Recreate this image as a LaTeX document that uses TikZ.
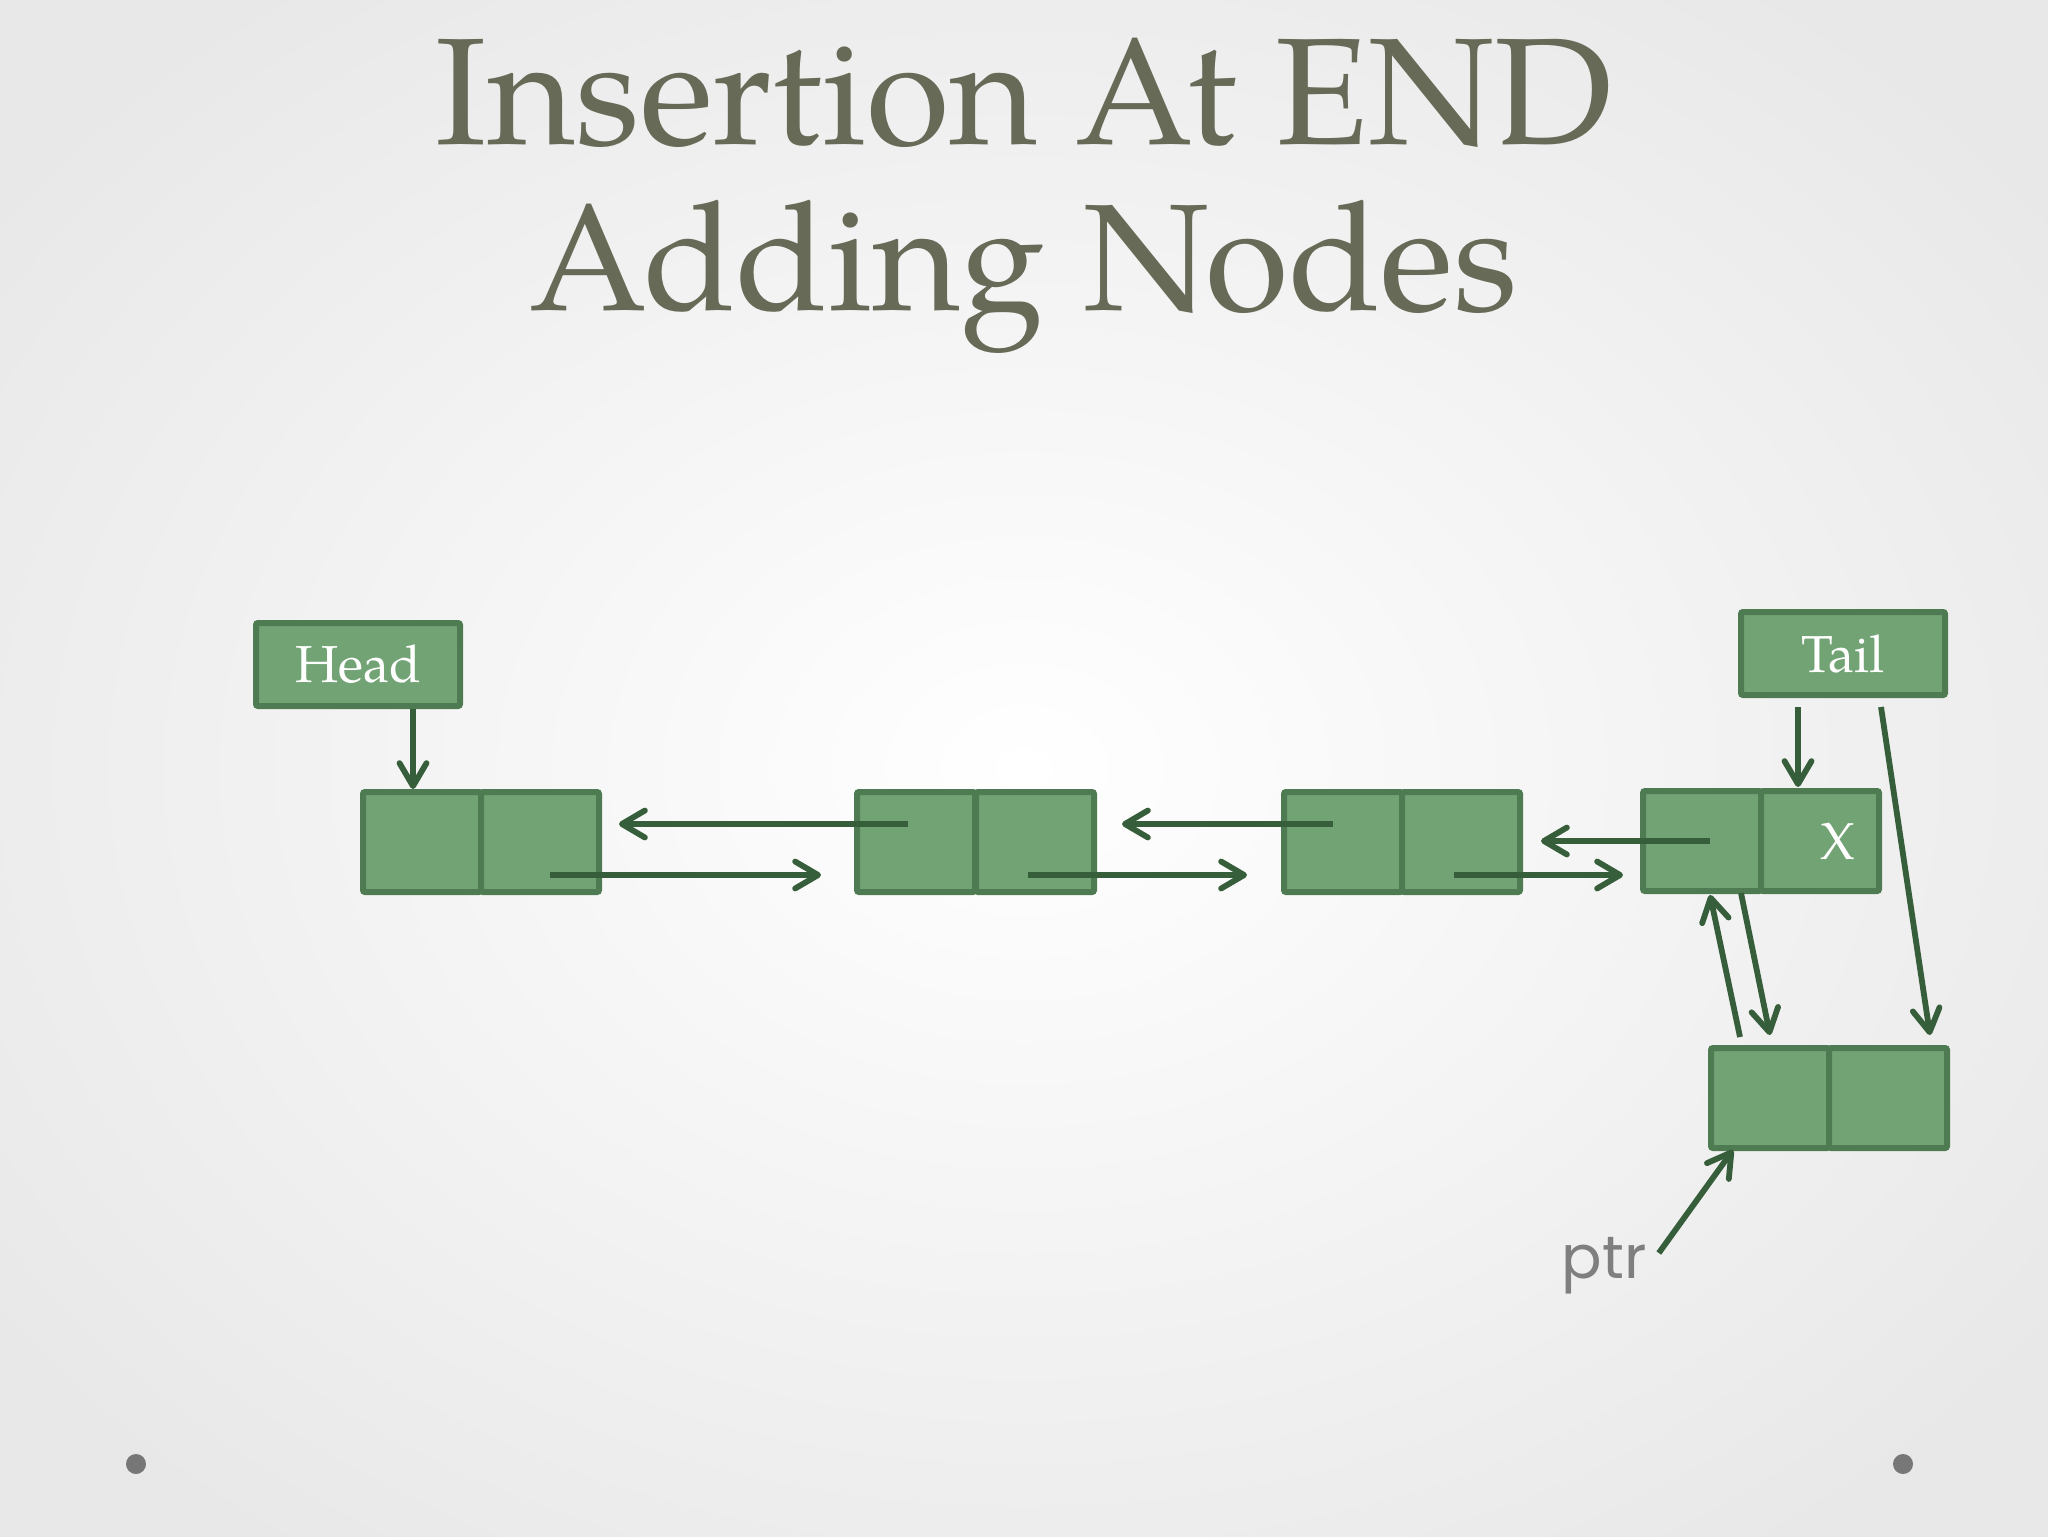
\documentclass[tikz,border=0pt]{standalone}
\usepackage{fontspec}
\setmainfont{TeX Gyre Pagella}
\newfontfamily\ptrfont{Poppins}
\usetikzlibrary{arrows.meta,calc,shadings}
\definecolor{cellfill}{HTML}{72A375}
\definecolor{cellline}{HTML}{4F7B52}
\definecolor{arrowcol}{HTML}{365E3A}
\definecolor{titlecol}{HTML}{666A56}
\definecolor{ptrcol}{HTML}{7F7F7F}
\definecolor{dotcol}{HTML}{777777}
\tikzset{
  cell/.style={draw=cellline, fill=cellfill, line width=3pt, rounded corners=1pt,
    minimum width=59pt, minimum height=50pt, inner sep=0pt, outer sep=0pt},
  labelbox/.style={draw=cellline, fill=cellfill, line width=3pt, rounded corners=1pt,
    minimum width=102pt, minimum height=41.5pt, inner sep=0pt, outer sep=0pt,
    text=white, font=\fontsize{26}{30}\selectfont},
  arr/.style={draw=arrowcol, line width=2.9pt,
    -{Straight Barb[length=11.5pt,width=13.5pt,round]}},
  titletext/.style={text=titlecol, font=\fontsize{76}{84}\selectfont, anchor=base, inner sep=0pt},
}
\begin{document}
\begin{tikzpicture}[x=0.5pt,y=-0.5pt]
\useasboundingbox (0,0) rectangle (2048,1536);
\shade[inner color=white, outer color=black!9] (-250,-200) rectangle (2298,1736);
% title
\node[titletext] (title1) at (1024,144) {Insertion At END};
\node[titletext] (title2) at (1024,310) {Adding Nodes};
% dots
\fill[dotcol] (136,1464) circle (10);
\fill[dotcol] (1903,1464) circle (10);
% label boxes
\node[labelbox] (head) at (358,664.5) {Head};
\node[labelbox] (tail) at (1843,653.5) {Tail};
% list nodes
\node[cell] (n1a) at (422,842) {};
\node[cell] (n1b) at (540,842) {};
\node[cell] (n2a) at (916,842) {};
\node[cell] (n2b) at (1035,842) {};
\node[cell] (n3a) at (1343,842) {};
\node[cell] (n3b) at (1461,842) {};
\node[cell] (n4a) at (1702,841) {};
\node[cell, text=white, font=\fontsize{26}{30}\selectfont] (n4b) at (1820,841) {\hspace*{18pt}X};
\node[cell] (n5a) at (1770,1098) {};
\node[cell] (n5b) at (1888,1098) {};
% ptr label
\node[text=ptrcol, font=\ptrfont\fontsize{30}{34}\selectfont, anchor=base, inner sep=0pt] (ptr) at (1604,1278) {ptr};
% connectors
\draw[arr] ([shift={(55,3)}]head.south) -- ([shift={(-9,-3)}]n1a.north);
\draw[arr] ([shift={(-8,-18)}]n2a.center) -- ([shift={(20,-18)}]n1b.east);
\draw[arr] ([shift={(10,33)}]n1b.center) -- ([shift={(-36,33)}]n2a.west);
\draw[arr] ([shift={(-10,-18)}]n3a.center) -- ([shift={(28,-18)}]n2b.east);
\draw[arr] ([shift={(-7,33)}]n2b.center) -- ([shift={(-37,33)}]n3a.west);
\draw[arr] ([shift={(8,0)}]n4a.center) -- ([shift={(21,-1)}]n3b.east);
\draw[arr] ([shift={(-7,33)}]n3b.center) -- ([shift={(-20,34)}]n4a.west);
\draw[arr] ([shift={(-45,12)}]tail.south) -- ([shift={(-22,-4)}]n4b.north);
\draw[arr] ([shift={(38,12)}]tail.south) -- ([shift={(42,-13)}]n5b.north);
\draw[arr] ([shift={(-30,-11)}]n5a.north) -- ([shift={(8,4)}]n4a.south);
\draw[arr] ([shift={(39,2)}]n4a.south) -- ([shift={(0,-13)}]n5a.north);
\draw[arr] ([shift={(12,-25)}]ptr.base east) -- ([shift={(22,2)}]n5a.south west);
\end{tikzpicture}
\end{document}
